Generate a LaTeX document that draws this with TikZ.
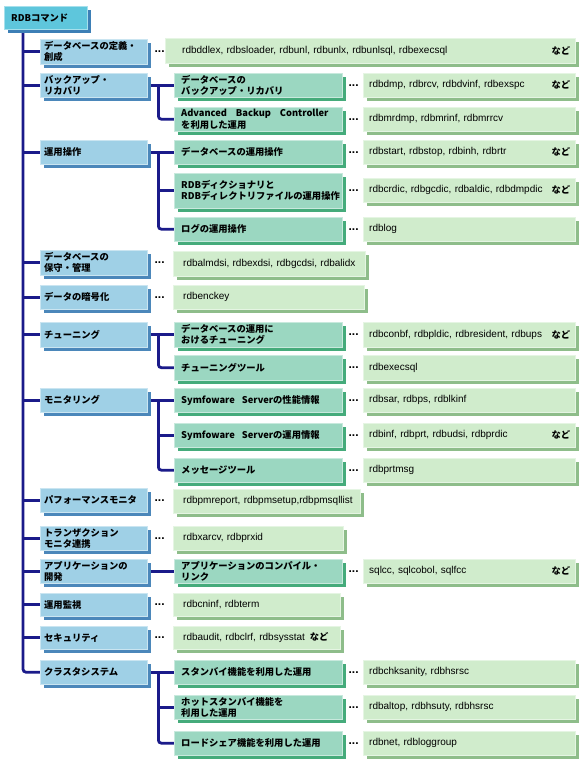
\documentclass[tikz,border=0pt]{standalone}
\usepackage{fontspec}
\setmainfont{Noto Sans CJK JP}
\newfontfamily\latfont{Liberation Sans}
\usetikzlibrary{positioning,shadows,backgrounds}

\definecolor{rootfill}{HTML}{5EC6DC}
\definecolor{rootdark}{HTML}{3D7FB6}
\definecolor{catfill}{HTML}{9FD0E6}
\definecolor{catdark}{HTML}{4B87BA}
\definecolor{taskfill}{HTML}{9BD7C1}
\definecolor{taskdark}{HTML}{45AB7B}
\definecolor{cmdfill}{HTML}{D0ECCC}
\definecolor{cmddark}{HTML}{8EBD8A}
\definecolor{treeline}{HTML}{1B1B8A}

\begin{document}
\begin{tikzpicture}[
    x=1pt, y=-1pt,
    box/.style={anchor=north west, align=left, inner ysep=1pt, minimum height=24pt, font=\bfseries\fontsize{9.3}{11.2}\selectfont},
    rootbox/.style={box, fill=rootfill, draw=rootfill!55!white, drop shadow={shadow xshift=4pt, shadow yshift=-4pt, fill=rootdark, opacity=1}, text width=69pt, inner xsep=7pt, minimum height=23pt},
    catbox/.style={box, fill=catfill, draw=catfill!55!white, drop shadow={shadow xshift=4pt, shadow yshift=-4pt, fill=catdark, opacity=1}, text width=99pt, inner xsep=4pt},
    taskbox/.style={box, fill=taskfill, draw=taskfill!55!white, drop shadow={shadow xshift=4pt, shadow yshift=-4pt, fill=taskdark, opacity=1}, text width=154pt, inner xsep=7pt},
    cmdbox/.style={box, fill=cmdfill, draw=cmdfill!55!white, drop shadow={shadow xshift=4pt, shadow yshift=-4pt, fill=cmddark, opacity=1}, text width=200pt, inner xsep=6pt, font=\latfont\fontsize{10}{12}\selectfont},
    etc/.style={anchor=east, inner sep=0pt, font=\bfseries\fontsize{9.3}{11.2}\selectfont},
    dots/.style={inner sep=0pt, font=\latfont\bfseries\fontsize{12}{12}\selectfont},
    tree/.style={draw=treeline, line width=2.8pt, rounded corners=3pt}
  ]
    \useasboundingbox (0,0) rectangle (587,769);

    % root
    \node[rootbox] (root) at (4,6) {RDBコマンド};

    % categories
    \node[catbox, minimum height=25pt] (def) at (40,39) {データベースの定義・\\創成};
    \node[catbox] (bak) at (40,73) {バックアップ・\\リカバリ};
    \node[catbox] (op) at (40,140) {運用操作};
    \node[catbox, minimum height=25pt] (mnt) at (40,250) {データベースの\\保守・管理};
    \node[catbox] (enc) at (40,285) {データの暗号化};
    \node[catbox, minimum height=25pt] (tun) at (40,322) {チューニング};
    \node[catbox] (mon) at (40,388) {モニタリング};
    \node[catbox] (perf) at (40,488) {パフォーマンスモニタ};
    \node[catbox] (tx) at (40,526) {トランザクション\\モニタ連携};
    \node[catbox] (app) at (40,559) {アプリケーションの\\開発};
    \node[catbox, minimum height=23pt] (watch) at (40,593) {運用監視};
    \node[catbox, minimum height=23pt] (sec) at (40,626) {セキュリティ};
    \node[catbox] (clus) at (40,660) {クラスタシステム};

    % tasks
    \node[taskbox] (bak1) at (174,73) {データベースの\\バックアップ・リカバリ};
    \node[taskbox] (bak2) at (174,107) {Advanced\hspace{9pt}Backup\hspace{9pt}Controller\\を利用した運用};
    \node[taskbox] (op1) at (174,140) {データベースの運用操作};
    \node[taskbox, minimum height=35pt] (op2) at (174,173) {RDBディクショナリと\\RDBディレクトリファイルの運用操作};
    \node[taskbox] (op3) at (174,217) {ログの運用操作};
    \node[taskbox, minimum height=25pt] (tun1) at (174,322) {データベースの運用に\\おけるチューニング};
    \node[taskbox, minimum height=25pt] (tun2) at (174,355) {チューニングツール};
    \node[taskbox] (mon1) at (174,388) {Symfoware\hspace{7pt}Serverの性能情報};
    \node[taskbox] (mon2) at (174,423) {Symfoware\hspace{7pt}Serverの運用情報};
    \node[taskbox] (mon3) at (174,458) {メッセージツール};
    \node[taskbox] (app1) at (174,559) {アプリケーションのコンパイル・\\リンク};
    \node[taskbox] (clus1) at (174,660) {スタンバイ機能を利用した運用};
    \node[taskbox] (clus2) at (174,695) {ホットスタンバイ機能を\\利用した運用};
    \node[taskbox] (clus3) at (174,731) {ロードシェア機能を利用した運用};

    % commands of tasks
    \node[cmdbox] (bak1c) at (363,73) {rdbdmp, rdbrcv, rdbdvinf, rdbexspc};
    \node[cmdbox] (bak2c) at (363,107) {rdbmrdmp, rdbmrinf, rdbmrrcv};
    \node[cmdbox] (op1c) at (363,140) {rdbstart, rdbstop, rdbinh, rdbrtr};
    \node[cmdbox] (op2c) at (363,178) {rdbcrdic, rdbgcdic, rdbaldic, rdbdmpdic};
    \node[cmdbox] (op3c) at (363,217) {rdblog};
    \node[cmdbox, minimum height=25pt] (tun1c) at (363,322) {rdbconbf, rdbpldic, rdbresident, rdbups};
    \node[cmdbox, minimum height=25pt] (tun2c) at (363,355) {rdbexecsql};
    \node[cmdbox] (mon1c) at (363,388) {rdbsar, rdbps, rdblkinf};
    \node[cmdbox] (mon2c) at (363,423) {rdbinf, rdbprt, rdbudsi, rdbprdic};
    \node[cmdbox] (mon3c) at (363,458) {rdbprtmsg};
    \node[cmdbox] (app1c) at (363,559) {sqlcc, sqlcobol, sqlfcc};
    \node[cmdbox] (clus1c) at (363,660) {rdbchksanity, rdbhsrsc};
    \node[cmdbox] (clus2c) at (363,695) {rdbaltop, rdbhsuty, rdbhsrsc};
    \node[cmdbox] (clus3c) at (363,731) {rdbnet, rdbloggroup};

    % commands of categories
    \node[cmdbox, minimum height=25pt, inner xsep=17pt, text width=376pt] (defc) at (165,38) {rdbddlex, rdbsloader, rdbunl, rdbunlx, rdbunlsql, rdbexecsql};
    \node[cmdbox, minimum height=25pt, inner xsep=10pt, text width=172pt] (mntc) at (173,251) {\mbox{rdbalmdsi, rdbexdsi, rdbgcdsi, rdbalidx}};
    \node[cmdbox, inner xsep=10pt, text width=171pt] (encc) at (173,285) {rdbenckey};
    \node[cmdbox, inner xsep=10pt, text width=167pt] (perfc) at (173,489) {\mbox{rdbpmreport, rdbpmsetup,rdbpmsqllist}};
    \node[cmdbox, inner xsep=10pt, text width=150pt] (txc) at (173,526) {rdbxarcv, rdbprxid};
    \node[cmdbox, minimum height=23pt, inner xsep=10pt, text width=147pt] (watchc) at (173,593) {rdbcninf, rdbterm};
    \node[cmdbox, minimum height=23pt, inner xsep=10pt, text width=147pt] (secc) at (173,626) {\mbox{rdbaudit, rdbclrf, rdbsysstat\hspace{5pt}{\normalfont\bfseries\fontsize{9.3}{11.2}\selectfont など}}};

    % dots
    \foreach \n in {def,mnt,enc,perf,tx,watch,sec}
      \node[dots, right=7pt of \n] (\n d) {...};
    \foreach \n in {bak1,bak2,op1,op2,op3,tun1,tun2,mon1,mon2,mon3,app1,clus1,clus2,clus3}
      \node[dots, right=6pt of \n] (\n d) {...};

    % etc
    \foreach \n in {defc,bak1c,op1c,op2c,tun1c,mon2c,app1c}
      \node[etc] (\n e) at ([xshift=-5pt]\n.east) {など};

    % tree
    \begin{scope}[on background layer]
      \fill[white] (0,0) rectangle (587,769);
      \coordinate (trunk) at ([xshift=19pt]root.south west);
      \draw[tree] (trunk) |- (clus.west);
      \foreach \n in {def,bak,op,mnt,enc,tun,mon,perf,tx,app,watch,sec}
        \draw[tree] (trunk |- \n.west) -- (\n.west);
      \foreach \p/\c in {bak/bak1,op/op1,tun/tun1,mon/mon1,app/app1,clus/clus1}
        \draw[tree] (\p.east) -- (\c.west);
      \foreach \p/\c in {bak/bak2,op/op3,tun/tun2,mon/mon3,clus/clus3}
        \draw[tree] ([xshift=11pt]\p.east) |- (\c.west);
      \foreach \p/\c in {op/op2,mon/mon2,clus/clus2}
        \draw[tree] ([xshift=11pt]\p.east |- \c.west) -- (\c.west);
    \end{scope}
\end{tikzpicture}
\end{document}
